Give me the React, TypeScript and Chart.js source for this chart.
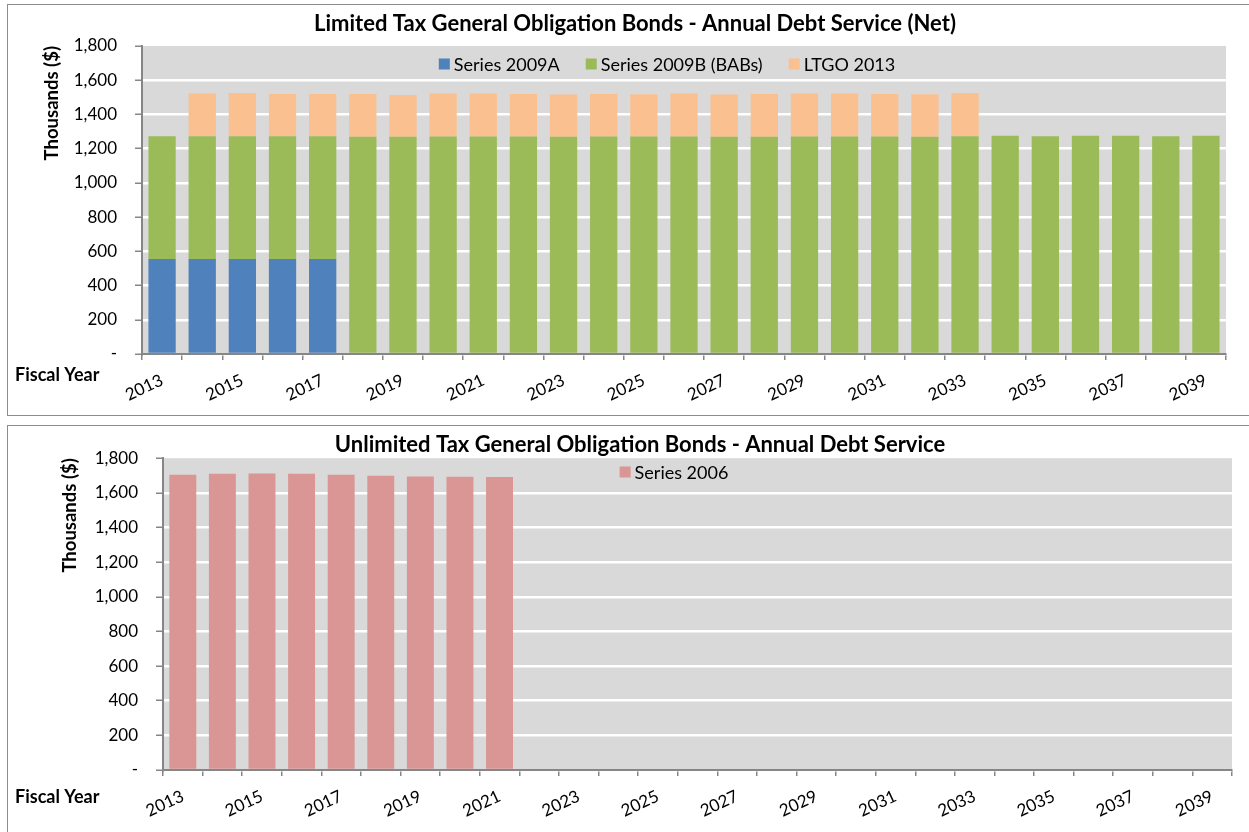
import React, { useEffect, useRef } from 'react';
import { Chart, registerables } from 'chart.js';

Chart.register(...registerables);

const years = [
  '2013', '2014', '2015', '2016', '2017', '2018', '2019', '2020', '2021', '2022',
  '2023', '2024', '2025', '2026', '2027', '2028', '2029', '2030', '2031', '2032',
  '2033', '2034', '2035', '2036', '2037', '2038', '2039',
];

const series2009A = [
  555, 555, 555, 555, 555, null, null, null, null, null,
  null, null, null, null, null, null, null, null, null, null,
  null, null, null, null, null, null, null,
];

const series2009B = [
  717, 718, 718, 718, 718, 1270, 1269, 1271, 1271, 1271,
  1269, 1271, 1271, 1271, 1269, 1269, 1271, 1271, 1271, 1269,
  1272, 1276, 1272, 1276, 1276, 1272, 1276,
];

const ltgo2013 = [
  null, 250, 252, 246, 246, 249, 245, 251, 251, 249,
  248, 249, 247, 251, 248, 250, 251, 251, 249, 249,
  253, null, null, null, null, null, null,
];

const series2006 = [
  1705, 1710, 1712, 1710, 1705, 1698, 1694, 1693, 1691, null,
  null, null, null, null, null, null, null, null, null, null,
  null, null, null, null, null, null, null,
];

const yMin = 0;
const yMax = 1800;
const yStep = 200;

const topTitle = 'Limited Tax General Obligation Bonds - Annual Debt Service (Net)';
const bottomTitle = 'Unlimited Tax General Obligation Bonds - Annual Debt Service';
const yTitle = 'Thousands ($)';
const xTitle = 'Fiscal Year';

const FONT = 'Lato, "Open Sans", "DejaVu Sans", sans-serif';
const AXIS_GRAY = '#868686';

const plotBg = {
  id: 'plotBg',
  beforeDraw(chart: any) {
    const { ctx, chartArea } = chart;
    ctx.save();
    ctx.fillStyle = '#d9d9d9';
    ctx.fillRect(chartArea.left, chartArea.top, chartArea.width, chartArea.height);
    ctx.restore();
  },
};

const extras = {
  id: 'extras',
  afterDraw(chart: any, _args: any, opts: any) {
    const ctx = chart.ctx;
    ctx.save();
    ctx.font = `${opts.legendSize}px ${FONT}`;
    ctx.textBaseline = 'middle';
    const items = chart.data.datasets.map((d: any) => ({
      label: d.label,
      color: d.backgroundColor,
      w: ctx.measureText(d.label).width,
    }));
    const box = 11;
    const gap = 4;
    const spacing = 26;
    const total =
      items.reduce((s: number, it: any) => s + box + gap + it.w, 0) + spacing * (items.length - 1);
    let x = opts.legendX - total / 2;
    const y = opts.legendY;
    items.forEach((it: any) => {
      ctx.fillStyle = it.color;
      ctx.fillRect(x, y - box / 2, box, box);
      x += box + gap;
      ctx.fillStyle = '#000';
      ctx.textAlign = 'left';
      ctx.fillText(it.label, x, y + 1);
      x += it.w + spacing;
    });
    ctx.font = `bold 18px ${FONT}`;
    ctx.fillStyle = '#000';
    ctx.textAlign = 'left';
    ctx.fillText(opts.xLabel, opts.xLabelX, opts.xLabelY);
    ctx.restore();
  },
};

function makeOptions(cfg: any) {
  return {
    animation: false,
    responsive: false,
    layout: { padding: { left: cfg.padLeft, right: cfg.padRight, top: 0, bottom: 0 } },
    datasets: { bar: { barPercentage: 0.68, categoryPercentage: 1 } },
    plugins: {
      legend: { display: false },
      tooltip: { enabled: false },
      title: {
        display: true,
        text: cfg.title,
        color: '#000',
        font: { family: FONT, size: 22, weight: 'bold' },
        padding: { top: 5.8, bottom: cfg.titleBottom },
      },
      extras: {
        legendX: cfg.legendX,
        legendY: cfg.legendY,
        legendSize: 18,
        xLabel: xTitle,
        xLabelX: 7,
        xLabelY: cfg.xLabelY,
      },
    },
    scales: {
      x: {
        stacked: true,
        grid: {
          offset: true,
          drawOnChartArea: false,
          drawTicks: true,
          tickLength: 6,
          color: AXIS_GRAY,
          lineWidth: 1.5,
        },
        border: { display: true, color: AXIS_GRAY, width: 2 },
        ticks: {
          autoSkip: false,
          minRotation: 25,
          maxRotation: 25,
          padding: 10,
          color: '#000',
          font: { family: FONT, size: 17 },
          callback: function (this: any, val: any, i: number) {
            return i % 2 === 0 ? this.getLabelForValue(val) : '';
          },
        },
        afterFit: (s: any) => {
          s.height = cfg.xHeight;
        },
      },
      y: {
        stacked: true,
        min: yMin,
        max: yMax,
        ticks: {
          stepSize: yStep,
          padding: 18,
          color: '#000',
          font: { family: FONT, size: 17 },
          callback: (v: any) => (v === 0 ? '-' : Number(v).toLocaleString('en-US')),
        },
        grid: {
          color: (c: any) => (c.tick && c.tick.value === yMax ? 'rgba(0,0,0,0)' : '#ffffff'),
          lineWidth: 2.5,
          tickColor: AXIS_GRAY,
          tickWidth: 1.5,
          tickLength: 7,
          drawTicks: true,
        },
        border: { display: true, color: AXIS_GRAY, width: 2 },
        title: {
          display: true,
          text: yTitle,
          align: 'end',
          color: '#000',
          font: { family: FONT, size: 18.5, weight: 'bold' },
          padding: { top: cfg.yTitlePad, bottom: 0 },
        },
        afterFit: (s: any) => {
          s.width = cfg.yWidth;
        },
      },
    },
  };
}

function TopChart() {
  const ref = useRef<HTMLCanvasElement | null>(null);
  useEffect(() => {
    if (!ref.current) return;
    const chart = new Chart(ref.current, {
      type: 'bar',
      data: {
        labels: years,
        datasets: [
          { label: 'Series 2009A', data: series2009A, backgroundColor: '#4f81bd' },
          { label: 'Series 2009B (BABs)', data: series2009B, backgroundColor: '#9bbb59' },
          { label: 'LTGO 2013', data: ltgo2013, backgroundColor: '#fac090' },
        ],
      } as any,
      options: makeOptions({
        padLeft: 36,
        padRight: 23,
        title: topTitle,
        titleBottom: 8.8,
        legendX: 659,
        legendY: 59,
        xLabelY: 370,
        xHeight: 61,
        yWidth: 98,
        yTitlePad: -3,
      }) as any,
      plugins: [plotBg, extras],
    });
    return () => chart.destroy();
  }, []);
  return <canvas ref={ref} width={1241} height={410} style={{ display: 'block' }} />;
}

function BottomChart() {
  const ref = useRef<HTMLCanvasElement | null>(null);
  useEffect(() => {
    if (!ref.current) return;
    const chart = new Chart(ref.current, {
      type: 'bar',
      data: {
        labels: years,
        datasets: [{ label: 'Series 2006', data: series2006, backgroundColor: '#d99694' }],
      } as any,
      options: makeOptions({
        padLeft: 40,
        padRight: 17,
        title: bottomTitle,
        titleBottom: 0,
        legendX: 666,
        legendY: 46,
        xLabelY: 371,
        xHeight: 62,
        yWidth: 115,
        yTitlePad: 11,
      }) as any,
      plugins: [plotBg, extras],
    });
    return () => chart.destroy();
  }, []);
  return <canvas ref={ref} width={1241} height={406} style={{ display: 'block' }} />;
}

export default function App() {
  const boxStyle: React.CSSProperties = {
    position: 'absolute',
    left: 7,
    width: 1300,
    border: '1px solid #8c8c8c',
    boxSizing: 'border-box',
    background: '#fff',
  };
  return (
    <>
      <style>{'body{margin:0;background:#fff;}'}</style>
      <div style={{ position: 'relative', width: 1249, height: 832, overflow: 'hidden' }}>
        <div style={{ ...boxStyle, top: 4, height: 412 }}>
          <TopChart />
        </div>
        <div style={{ ...boxStyle, top: 425, height: 420 }}>
          <BottomChart />
        </div>
      </div>
    </>
  );
}
